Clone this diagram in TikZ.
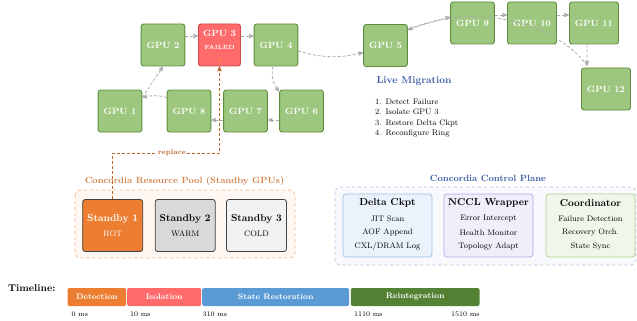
\documentclass[tikz,border=0pt]{standalone}
\usepackage{fontspec}
\newfontfamily\symfont{DejaVu Sans}
\usetikzlibrary{positioning,arrows,calc}

\definecolor{gpugreen}{HTML}{9DC77E}
\definecolor{gpuline}{HTML}{5E8E3E}
\definecolor{failred}{HTML}{FF6B6B}
\definecolor{failline}{HTML}{D04848}
\definecolor{warnorange}{HTML}{F5A623}
\definecolor{hotorange}{HTML}{ED7D31}
\definecolor{replbrown}{HTML}{C0652A}
\definecolor{ringgray}{HTML}{ABABAB}
\definecolor{headblue}{HTML}{3A5BA0}
\definecolor{pooltitle}{HTML}{D4824A}
\definecolor{poolline}{HTML}{F5B38A}
\definecolor{poolfill}{HTML}{FFF7F1}
\definecolor{spareline}{HTML}{404040}
\definecolor{warmgray}{HTML}{D9D9D9}
\definecolor{coldgray}{HTML}{F2F2F2}
\definecolor{planeline}{HTML}{B4C0DC}
\definecolor{planefill}{HTML}{F8F9FC}
\definecolor{ckptfill}{HTML}{EAF2FB}
\definecolor{ckptline}{HTML}{9DC3E6}
\definecolor{ncclfill}{HTML}{F1EEFB}
\definecolor{ncclline}{HTML}{B4A7E5}
\definecolor{coordfill}{HTML}{EFF7EA}
\definecolor{coordline}{HTML}{A9D18E}
\definecolor{restblue}{HTML}{5B9BD5}
\definecolor{reintgreen}{HTML}{548235}

\begin{document}
\begin{tikzpicture}[x=1pt,y=-1pt,
    gpu/.style={draw=gpuline,fill=gpugreen,line width=0.9pt,rounded corners=2.5pt,
      minimum width=42pt,minimum height=42pt,inner xsep=5.5pt,text=white,font=\small\bfseries},
    ring/.style={draw=ringgray,line width=0.8pt,dash pattern=on 3pt off 2pt,->,>=stealth'},
    repl/.style={draw=replbrown,line width=0.8pt,dash pattern=on 3pt off 2pt,->,>=stealth'},
    spare/.style={draw=spareline,line width=0.8pt,rounded corners=2.5pt,
      minimum width=60pt,minimum height=52pt,align=center},
    module/.style={draw,line width=0.7pt,rounded corners=3pt,minimum width=89pt,minimum height=63pt},
    phase/.style={anchor=west,rounded corners=2pt,minimum height=18pt,inner sep=0pt,
      text=white,font=\footnotesize\bfseries},
    tick/.style={anchor=west,inner sep=0pt,font=\scriptsize}]
    \useasboundingbox (0,0) rectangle (637,321);

    % Rahmen
    \draw[draw=poolline,fill=poolfill,dashed,line width=0.7pt,rounded corners=5pt] (75,190) rectangle (295,258);
    \draw[draw=planeline,fill=planefill,dashed,line width=0.7pt,rounded corners=5pt] (335,187) rectangle (636,265);

    % GPU ring
    \foreach \n/\x/\y in {1/120/111, 2/163/45, 4/276/45, 5/385.5/45.5, 6/301.5/111, 7/245.5/111,
                          8/189/111, 9/472.5/23, 10/532/23, 11/594/23, 12/606/89} {
      \node[gpu] (g\n) at (\x,\y) {GPU \n};
    }
    \node[gpu,fill=failred,draw=failline] (g3) at (219.5,45) {};
    \node[text=white,font=\small\bfseries,inner sep=0pt] (g3t) at ([yshift=12pt]g3) {GPU 3};
    \node[text=white,font=\fontsize{6}{7}\selectfont\bfseries,inner sep=0pt] (g3f) at ([yshift=-2pt]g3) {FAILED};
    \node[text=warnorange,font=\symfont\fontsize{5}{5}\selectfont,inner sep=0pt] (g3w) at ([yshift=-15pt]g3) {⚠};

    \draw[ring] ([yshift=9pt]g2.east) -- ([yshift=9pt]g3.west);
    \draw[ring] ([yshift=9pt]g3.east) -- ([yshift=9pt]g4.west);
    \draw[ring] ([xshift=-3pt]g4.south) to[bend right=25] ([yshift=-2pt]g6.north west);
    \draw[ring] ([yshift=-9pt]g6.west) -- ([yshift=-9pt]g7.east);
    \draw[ring] ([yshift=-9pt]g7.west) -- ([yshift=-9pt]g8.east);
    \draw[ring] ([yshift=-8pt]g8.north west) to[bend right=15] ([yshift=-8pt]g1.north east);
    \draw[ring] ([yshift=-8pt]g1.north east) -- (g2.south);
    \draw[ring] ([yshift=-6pt]g4.east) to[bend right=15] ([yshift=-7pt]g5.west);
    \draw[ring] ([yshift=-5pt]g5.north east) -- ([yshift=6pt]g9.west);
    \draw[ring] ([yshift=8pt]g9.east) -- ([yshift=8pt]g10.west);
    \draw[ring] ([yshift=8pt]g10.east) -- ([yshift=8pt]g11.west);
    \draw[ring] ([xshift=-7pt]g11.south) -- ([xshift=6pt,yshift=2pt]g12.north west);
    \draw[ring] ([xshift=6pt,yshift=2pt]g12.north west) .. controls +(-33,-45) and +(63,-28) .. ([yshift=-6pt]g5.north east);

    % Live Migration
    \node[anchor=west,font=\bfseries,text=headblue] (lm) at (373,81.5) {Live Migration};
    \node[below=9pt of lm.south west,anchor=north west,xshift=2pt,align=left,font=\footnotesize,inner sep=0pt] (lmsteps)
      {1. Detect Failure\\[1pt]2. Isolate GPU 3\\[1pt]3. Restore Delta Ckpt\\[1pt]4. Reconfigure Ring};

    % Standby
    \node[font=\small\bfseries,text=pooltitle] (pool) at (184.5,181) {Concordia Resource Pool (Standby GPUs)};
    \foreach \i/\x/\f/\t/\s in {1/112.7/hotorange/white/HOT, 2/185.2/warmgray/black/WARM, 3/256.5/coldgray/black/COLD} {
      \node[spare,fill=\f,text=\t] (s\i) at (\x,225.5) {\textbf{Standby \i}\\[3pt]{\footnotesize \s}};
    }
    \coordinate (rp) at (172,153);
    \draw[repl] (s1.north) |- (rp) node[fill=white,inner sep=1pt,text=replbrown,font=\scriptsize\bfseries] (rpl) {replace} -| (g3.south);

    % Control Plane
    \node[font=\small\bfseries,text=headblue] (plane) at (488,178) {Concordia Control Plane};
    \foreach \m/\x/\f/\d/\t/\a/\b/\c in {
        ckpt/387.5/ckptfill/ckptline/Delta Ckpt/JIT Scan/AOF Append/{CXL/DRAM Log},
        nccl/488.5/ncclfill/ncclline/NCCL Wrapper/Error Intercept/Health Monitor/Topology Adapt,
        coord/590.5/coordfill/coordline/Coordinator/Failure Detection/Recovery Orch./State Sync} {
      \node[module,fill=\f,draw=\d] (\m) at (\x,225.5) {};
      \node[font=\bfseries,inner sep=0pt] (\m-t) at ([yshift=-9pt]\m.north) {\t};
      \node[font=\footnotesize,inner sep=0pt] (\m-a) at ([yshift=-25pt]\m.north) {\a};
      \node[font=\footnotesize,inner sep=0pt] (\m-b) at ([yshift=-39pt]\m.north) {\b};
      \node[font=\footnotesize,inner sep=0pt] (\m-c) at ([yshift=-53pt]\m.north) {\c};
    }

    % Timeline
    \node[anchor=west,font=\bfseries,inner sep=0pt] (tl) at (8,288) {Timeline:};
    \foreach \p/\x/\w/\c/\t in {det/67.3/58.7/hotorange/Detection, iso/127/74/failred/Isolation,
                               rest/202/147/restblue/State Restoration, reint/350.7/128.6/reintgreen/Reintegration} {
      \node[phase,fill=\c,minimum width=\w pt] (\p) at (\x,297) {\t};
    }
    \foreach \t/\x in {0/71.5, 10/130, 310/202.5, 1110/354, 1510/451} {
      \node[tick] (t\t) at (\x,314) {\t{} ms};
    }
\end{tikzpicture}
\end{document}
